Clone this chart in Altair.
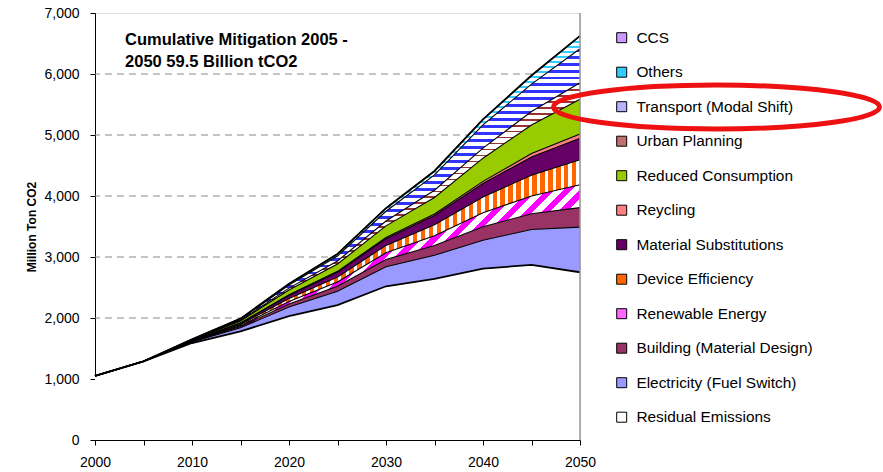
import math
import altair as alt
import pandas as pd

# ---- data (million t CO2) ----
years = [2000, 2005, 2010, 2015, 2020, 2025, 2030, 2035, 2040, 2045, 2050]

residual = [1050, 1290, 1590, 1780, 2030, 2210, 2520, 2640, 2810, 2870, 2750]
electricity = [0, 0, 15, 60, 150, 230, 320, 390, 465, 580, 740]
building = [0, 0, 5, 20, 50, 80, 120, 160, 220, 260, 320]
renewable = [0, 0, 5, 15, 40, 70, 110, 160, 230, 290, 375]
device = [0, 0, 5, 20, 50, 80, 120, 180, 260, 340, 410]
material = [0, 0, 5, 20, 50, 80, 110, 150, 220, 300, 350]
recycling = [0, 0, 2, 5, 10, 15, 20, 25, 35, 55, 70]
reduced = [0, 0, 10, 30, 80, 120, 190, 270, 380, 470, 570]
urban = [0, 0, 5, 10, 30, 50, 80, 120, 165, 220, 270]
transport = [0, 0, 5, 20, 50, 80, 160, 250, 380, 450, 560]
others = [0, 0, 3, 10, 20, 35, 50, 65, 90, 140, 210]
ccs = [0, 0, 0, 0, 0, 0, 0, 0, 0, 0, 0]

categories = [
    "Residual Emissions", "Electricity (Fuel Switch)", "Building (Material Design)",
    "Renewable Energy", "Device Efficiency", "Material Substitutions", "Reycling",
    "Reduced Consumption", "Urban Planning", "Transport (Modal Shift)", "Others", "CCS",
]
series = [residual, electricity, building, renewable, device, material, recycling,
          reduced, urban, transport, others, ccs]

y_max = 7000
y_ticks = list(range(0, y_max + 1, 1000))
grid_values = [1000, 2000, 3000, 4000, 5000, 6000]
tick_years = list(range(2000, 2051, 5))

W, H = 485, 427
FONT = "Liberation Sans"

# ---- stacked boundaries ----
rows = []
base = [0] * len(years)
for cat, vals in zip(categories, series):
    top = [b + v for b, v in zip(base, vals)]
    for yr, lo, hi in zip(years, base, top):
        rows.append({"cat": cat, "year": yr, "lo": lo, "hi": hi})
    base = top
df = pd.DataFrame(rows)


def band_px(cat):
    d = df[df.cat == cat]
    return (d.hi.max() - d.lo.min()) * H / y_max


def stripe_stops(c_on, c_off, n, duty):
    stops = []
    for i in range(n):
        a, b, c = i / n, (i + duty) / n, (i + 1) / n
        stops += [(a, c_on), (b, c_on), (b, c_off), (c, c_off)]
    return [alt.GradientStop(offset=round(o, 5), color=col) for o, col in stops]


def vertical_stripes(c_on, c_off, period, duty):
    n = max(1, round(W / period))
    return alt.LinearGradient(gradient="linear", x1=0, y1=0, x2=1, y2=0,
                              stops=stripe_stops(c_on, c_off, n, duty))


def horizontal_stripes(cat, c_on, c_off, period, duty):
    n = max(1, round(band_px(cat) / period))
    return alt.LinearGradient(gradient="linear", x1=0, y1=0, x2=0, y2=1,
                              stops=stripe_stops(c_on, c_off, n, duty))


def diagonal_stripes(cat, c_on, c_off, period, duty):
    # 45 degree "/" stripes inside the band's bounding box
    h = band_px(cat)
    q = h / W
    x2 = (1 + q) / (1 + q * q)
    n = max(1, round((W + h) / (math.sqrt(2) * period)))
    return alt.LinearGradient(gradient="linear", x1=0, y1=0, x2=x2, y2=x2 * q,
                              stops=stripe_stops(c_on, c_off, n, duty))


fills = {
    "Residual Emissions": "#ffffff",
    "Electricity (Fuel Switch)": "#9999ff",
    "Building (Material Design)": "#993366",
    "Renewable Energy": diagonal_stripes("Renewable Energy", "#ff00ff", "#ffffff", 12, 0.5),
    "Device Efficiency": vertical_stripes("#ff6600", "#ffffff", 8, 0.55),
    "Material Substitutions": "#660066",
    "Reycling": "#ff8080",
    "Reduced Consumption": "#99cc00",
    "Urban Planning": horizontal_stripes("Urban Planning", "#993333", "#ffffff", 6, 0.3),
    "Transport (Modal Shift)": horizontal_stripes("Transport (Modal Shift)", "#3333ff", "#ffffff", 7, 0.42),
    "Others": horizontal_stripes("Others", "#33ccff", "#ffffff", 5, 0.5),
    "CCS": "#cc99ff",
}

legend_order = list(reversed(categories))
legend_colors = {
    "CCS": "#cc99ff", "Others": "#33ccff", "Transport (Modal Shift)": "#b3b3ff",
    "Urban Planning": "#c07070", "Reduced Consumption": "#99cc00", "Reycling": "#ff8080",
    "Material Substitutions": "#660066", "Device Efficiency": "#ff6600",
    "Renewable Energy": "#ff66ff", "Building (Material Design)": "#993366",
    "Electricity (Fuel Switch)": "#9999ff", "Residual Emissions": "#ffffff",
}

x_enc = alt.X("year:Q", scale=alt.Scale(domain=[2000, 2050], nice=False, zero=False),
              axis=alt.Axis(values=tick_years, title=None, grid=False,
                            labelExpr="datum.value % 10 === 0 ? datum.value : ''",
                            labelFontSize=14, labelPadding=10, tickSize=5,
                            domainColor="black", tickColor="black", labelColor="black",
                            labelFont=FONT, labelFlush=False))
y_scale = alt.Scale(domain=[0, y_max], nice=False)
y_axis = alt.Axis(values=y_ticks, labelExpr="format(datum.value, ',')", title="Million Ton CO2",
                  titleFontSize=12, titleFontWeight="bold", titleFont=FONT, titlePadding=5,
                  titleColor="black", labelFontSize=14, labelFont=FONT, labelColor="black",
                  tickSize=5, tickColor="black", domainColor="black", grid=False,
                  labelPadding=11)


def y_of(field):
    return alt.Y(field, scale=y_scale, axis=y_axis)


# dashed horizontal grid
grid = alt.Chart(pd.DataFrame({"v": grid_values})).mark_rule(
    color="#888888", strokeDash=[7, 5], strokeWidth=1
).encode(y=y_of("v:Q"))

# hidden marks that carry the legend (sit under the opaque areas)
legend_df = pd.DataFrame({"cat": legend_order, "year": 2040, "v": 1000})
legend_layer = alt.Chart(legend_df).mark_square(size=4).encode(
    x=x_enc,
    y=y_of("v:Q"),
    color=alt.Color("cat:N", sort=legend_order,
                    scale=alt.Scale(domain=legend_order,
                                    range=[legend_colors[c] for c in legend_order]),
                    legend=alt.Legend(title=None, orient="none", legendX=519, legendY=17,
                                      symbolType="square", symbolSize=100,
                                      symbolStrokeColor="black", symbolStrokeWidth=1,
                                      symbolOpacity=1, labelFontSize=15.4, labelFont=FONT,
                                      labelColor="black", rowPadding=17.5, labelOffset=7,
                                      labelLimit=300)),
)

areas = []
lines = []
for cat in categories:
    d = df[df.cat == cat]
    areas.append(alt.Chart(d).mark_area(fill=fills[cat], strokeWidth=0).encode(
        x=x_enc, y=y_of("hi:Q"), y2="lo:Q"))
    lines.append(alt.Chart(d).mark_line(color="black",
                                        strokeWidth=1.8 if cat in ("CCS", "Residual Emissions") else 1.1).encode(
        x=x_enc, y=y_of("hi:Q")))

right_border = alt.Chart(pd.DataFrame({"year": [2050]})).mark_rule(
    color="#999999", strokeWidth=1.5
).encode(x=x_enc, y=alt.value(0), y2=alt.value(H))

note = alt.Chart(pd.DataFrame({"year": [2003.1], "v": [6557],
                               "t": ["Cumulative Mitigation 2005 -\n2050 59.5 Billion tCO2"]})
                 ).mark_text(align="left", baseline="middle", fontWeight="bold", fontSize=16.5,
                             font=FONT, lineBreak="\n", lineHeight=22, color="black").encode(
    x=x_enc, y=y_of("v:Q"), text="t:N")

ellipse = alt.Chart(pd.DataFrame({"k": [0]})).mark_point(
    shape="M -1 0 A 1 0.135 0 1 1 1 0 A 1 0.135 0 1 1 -1 0",
    size=326 * 326, filled=False, stroke="#ee1111", strokeWidth=5, opacity=1
).encode(x=alt.value(621.5), y=alt.value(94))

chart = alt.layer(grid, legend_layer, *areas, *lines, right_border, note, ellipse).properties(
    width=W, height=H,
    autosize=alt.AutoSizeParams(type="none"),
    padding={"left": 95, "top": 13, "right": 303, "bottom": 32},
).configure_view(stroke=None).configure(font=FONT)

chart.save("out.html", embed_options={"renderer": "svg", "actions": False})
